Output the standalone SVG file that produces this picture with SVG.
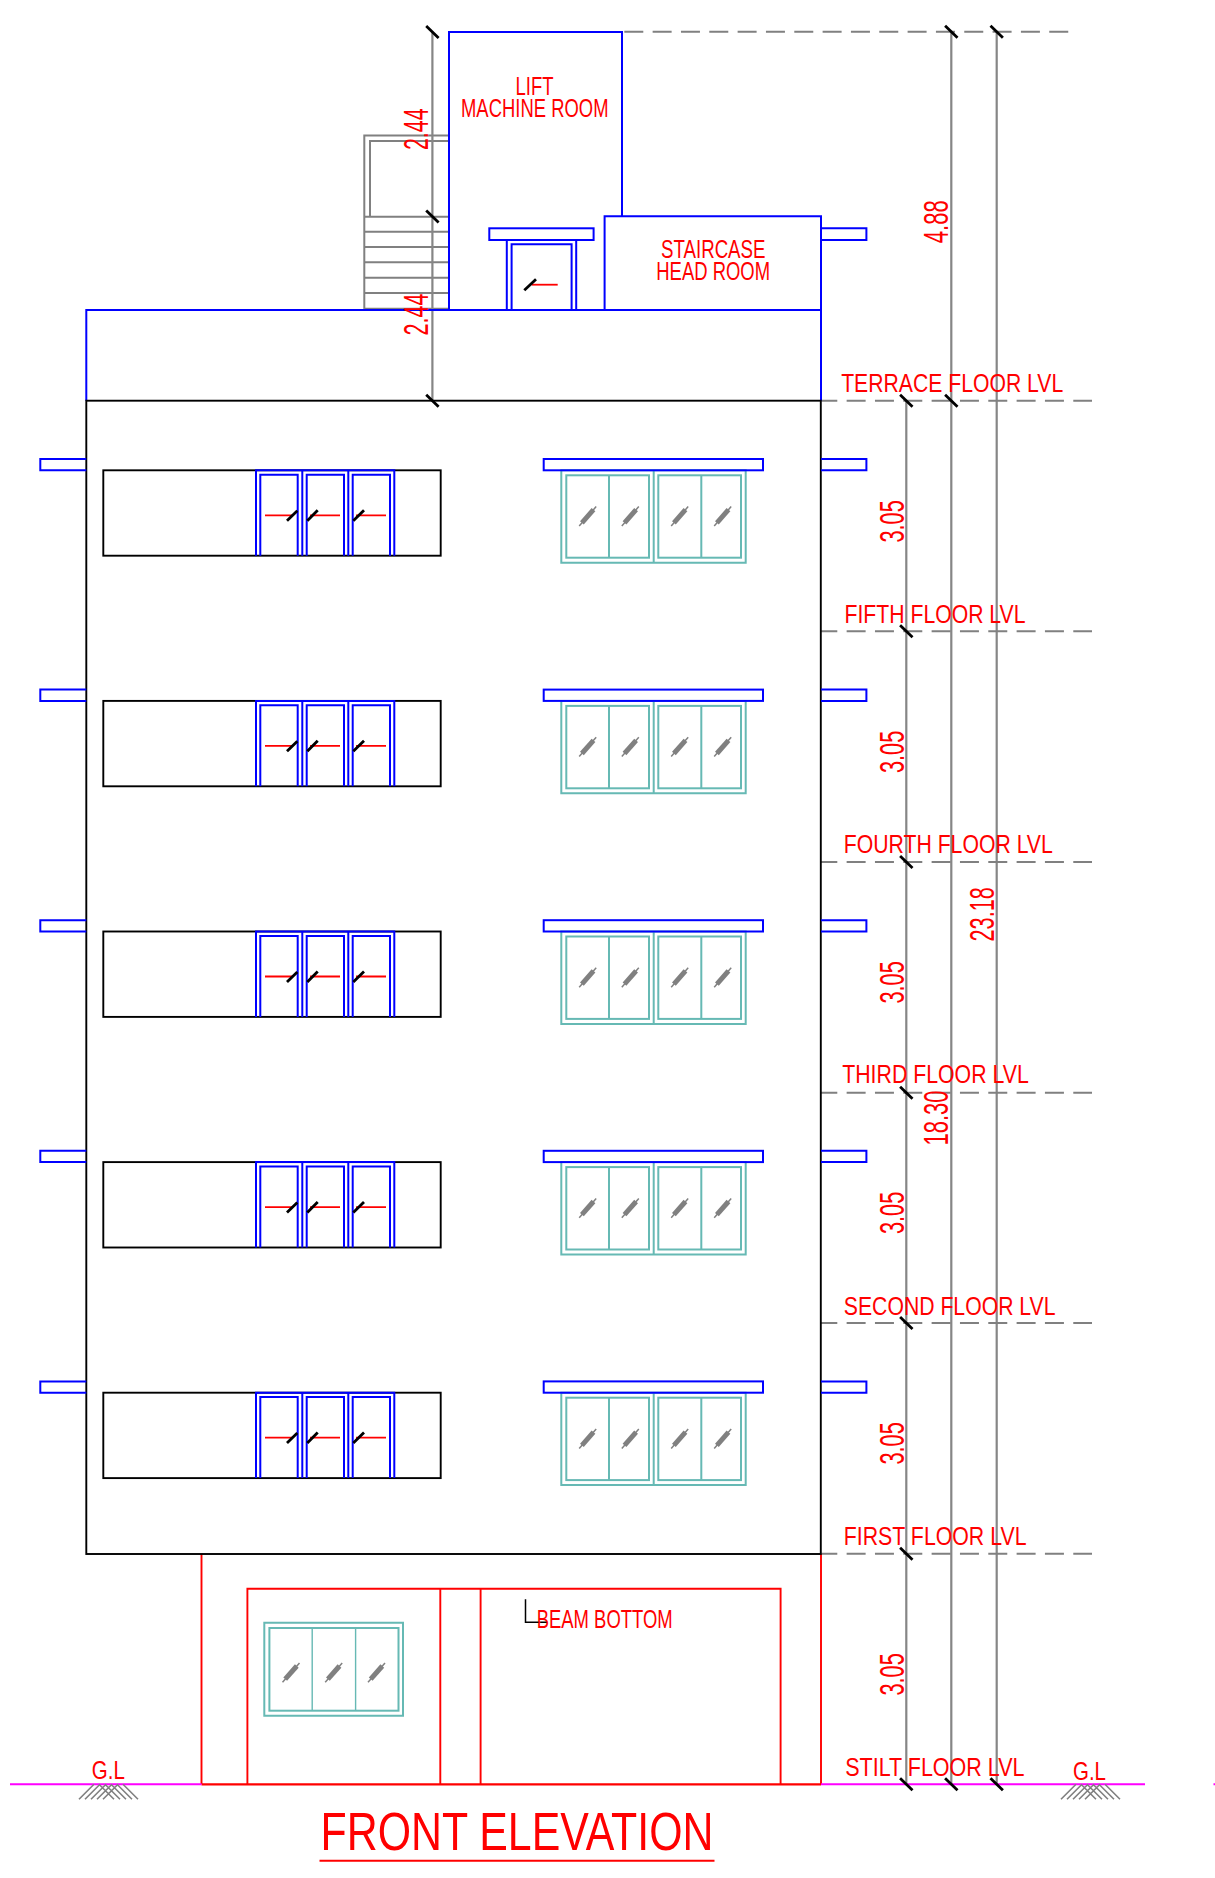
<svg xmlns="http://www.w3.org/2000/svg" width="1215" height="1878" viewBox="0 0 1215 1878">
<style>
.b{fill:none;stroke:#0000ff;stroke-width:2}
.k{fill:none;stroke:#000;stroke-width:1.9}
.r{fill:none;stroke:#ff0000;stroke-width:1.8}
.g{fill:none;stroke:#808080;stroke-width:2}
.t{fill:none;stroke:#66b9b4;stroke-width:2}
.t2{fill:none;stroke:#66b9b4;stroke-width:1.4}
.d{fill:none;stroke:#868686;stroke-width:2.2}
.dash{fill:none;stroke:#808080;stroke-width:1.9;stroke-dasharray:19 9.33}
.tick{stroke:#000;stroke-width:2.8;fill:none}
.m{stroke:#ff00ff;stroke-width:2;fill:none}
.h{stroke:#808080;stroke-width:1.6;fill:none}
.red{stroke:#ff0000;stroke-width:1.9;fill:none}
text{font-family:"Liberation Sans",Arial,sans-serif;fill:#ff0000;font-size:26.5px}
.dm{font-size:35px}
</style>
<defs>
<path id="tk" class="tick" d="M-6.2-6L6.2 6"/>
<g id="sl"><path d="M-8.5 9.7L8.5-9.7" stroke="#808080" stroke-width="1.5" fill="none"/><path d="M-5.8 6.6L5.8-6.6" stroke="#808080" stroke-width="5" fill="none"/></g>
<g id="hatch"><path class="h" d="M-14.5 0L-29.5 15M-8.5 0L-23.5 15M-2.5 0L-17.5 15M3.5 0L-11.5 15M9.5 0L-5.5 15M14.5 0L29.5 15M8.5 0L23.5 15M2.5 0L17.5 15M-3.5 0L11.5 15M-9.5 0L5.5 15"/></g>
<g id="bay">
<rect class="k" x="103.3" y="470.3" width="337.4" height="85.4"/>
<path class="b" d="M256 555.7V470.3H394.3V555.7M302.3 470.3V555.7M348.3 470.3V555.7M260.3 555.7V474.7H297.7V555.7M306.7 555.7V474.7H344V555.7M352.7 555.7V474.7H390V555.7"/>
<path class="r" d="M265 515.3H293M310 515.3H340M356 515.3H386"/>
<path class="tick" d="M287 520.7L297.3 510.7M307.3 520.7L317.7 510.2M353.3 520.7L364 510.2"/>
</g>
<g id="win">
<path class="t" d="M561.3 470.3H745.7V562.7H561.3ZM653.7 470.3V562.7"/>
<rect class="t" x="566.3" y="475.3" width="82.7" height="82.4"/>
<rect class="t" x="658.3" y="475.3" width="82.7" height="82.4"/>
<path class="t" d="M609 475.3V557.7M701.3 475.3V557.7"/>
<use href="#sl" x="587.7" y="516.3"/><use href="#sl" x="630.3" y="516.3"/><use href="#sl" x="679.7" y="516.3"/><use href="#sl" x="722.7" y="516.3"/>
<rect class="b" x="543.7" y="459" width="219.3" height="11.3"/>
</g>
<g id="shades">
<path class="b" d="M86.3 459H40.3V470.3H86.3M821 459H866.4V470.3H821"/>
</g>
</defs>

<g id="stair">
<path class="g" d="M449 135.5H364.3V310M449 141H370V216.7"/>
<path class="g" d="M364.3 216.7H449M364.3 231.7H449M364.3 247H449M364.3 262.3H449M364.3 277.7H449M364.3 293H449M364.3 308.7H449"/>
</g>

<g id="connectors">
<path class="d" d="M432.4 32V400.7M906.3 400.7V1784M951.3 32V1784M996.7 32V1784"/>
<path class="dash" d="M624.3 31.7H1069"/>
<path class="dash" style="stroke-dashoffset:2.7" d="M821 400.7H1092M821 631.3H1092M821 862H1092M821 1092.7H1092M821 1323H1092M821 1553.7H1092"/>
</g>

<g id="stilt">
<path class="red" d="M201.5 1554V1784.3M821 1554V1784.3M247.4 1784.3V1588.7H780.6V1784.3M440.3 1588.7V1784.3M480.6 1588.7V1784.3"/>
<path d="M201.5 1784.3H821" stroke="#ff0000" stroke-width="2.2" fill="none"/>
<path class="t" d="M264.3 1622.7H403V1715.7H264.3Z"/>
<rect class="t" x="269.4" y="1628" width="129.1" height="82.7"/>
<path class="t2" d="M312.2 1628V1710.7M355.6 1628V1710.7"/>
<use href="#sl" x="291" y="1672.6"/><use href="#sl" x="333.7" y="1672.6"/><use href="#sl" x="376.5" y="1672.6"/>
<path d="M525.5 1599.3V1622.3H547" stroke="#000" stroke-width="1.5" fill="none"/>
<text id="beam" x="536.7" y="1628.3" textLength="136" lengthAdjust="spacingAndGlyphs">BEAM BOTTOM</text>
</g>

<g id="ground">
<path class="m" d="M10 1784.3H201.5M821 1784.3H1145M1213.5 1784.3H1215"/>
<use href="#hatch" x="108.5" y="1784.3"/>
<use href="#hatch" x="1090.5" y="1784.3"/>
<text x="91.8" y="1779.3" textLength="33" lengthAdjust="spacingAndGlyphs">G.L</text>
<text x="1073" y="1780" textLength="33" lengthAdjust="spacingAndGlyphs">G.L</text>
</g>

<g id="building">
<path class="b" d="M86.3 400.7V310H821V400.7"/>
<rect class="k" x="86.3" y="400.7" width="734.5" height="1153.3"/>
</g>

<g id="lift-room">
<path class="b" d="M449 310V32H622V216.3"/>
<text x="515.5" y="95" textLength="38" lengthAdjust="spacingAndGlyphs">LIFT</text>
<text x="461" y="117" textLength="147.5" lengthAdjust="spacingAndGlyphs">MACHINE ROOM</text>
</g>
<g id="roof-door">
<rect class="b" x="489.3" y="228.3" width="104.3" height="11.7"/>
<path class="b" d="M506.8 310V240M576.2 310V240M511.6 310V244.2H571.6V310"/>
<path class="r" d="M531.7 284.7H557.7"/>
<path class="tick" d="M524.3 290.3L536 279.3"/>
</g>
<g id="staircase-room">
<path class="b" d="M604.6 310V216.3H821V310M821 228.3H866.4V240H821"/>
<text x="661" y="258" textLength="104.5" lengthAdjust="spacingAndGlyphs">STAIRCASE</text>
<text x="656.3" y="280" textLength="113.8" lengthAdjust="spacingAndGlyphs">HEAD ROOM</text>
</g>

<g id="floor-5"><use href="#shades"/><use href="#bay"/><use href="#win"/></g>
<g id="floor-4"><use href="#shades" y="230.6"/><use href="#bay" y="230.6"/><use href="#win" y="230.6"/></g>
<g id="floor-3"><use href="#shades" y="461.2"/><use href="#bay" y="461.2"/><use href="#win" y="461.2"/></g>
<g id="floor-2"><use href="#shades" y="691.8"/><use href="#bay" y="691.8"/><use href="#win" y="691.8"/></g>
<g id="floor-1"><use href="#shades" y="922.4"/><use href="#bay" y="922.4"/><use href="#win" y="922.4"/></g>

<g id="ticks">
<use href="#tk" x="432.4" y="32"/><use href="#tk" x="432.4" y="216.5"/><use href="#tk" x="432.4" y="400.7"/>
<use href="#tk" x="951.3" y="31.7"/><use href="#tk" x="996.7" y="31.7"/><use href="#tk" x="951.3" y="400.7"/>
<use href="#tk" x="906.3" y="400.7"/><use href="#tk" x="906.3" y="631.3"/><use href="#tk" x="906.3" y="862"/><use href="#tk" x="906.3" y="1092.7"/><use href="#tk" x="906.3" y="1323"/><use href="#tk" x="906.3" y="1553.7"/>
<use href="#tk" x="906.3" y="1784.3"/><use href="#tk" x="951.3" y="1784.3"/><use href="#tk" x="996.7" y="1784.3"/>
</g>

<g id="level-labels">
<text x="841.2" y="391.7" textLength="222" lengthAdjust="spacingAndGlyphs">TERRACE FLOOR LVL</text>
<text x="844.5" y="622.7" textLength="181" lengthAdjust="spacingAndGlyphs">FIFTH FLOOR LVL</text>
<text x="843.8" y="852.7" textLength="209" lengthAdjust="spacingAndGlyphs">FOURTH FLOOR LVL</text>
<text x="842.2" y="1083.3" textLength="186.6" lengthAdjust="spacingAndGlyphs">THIRD FLOOR LVL</text>
<text x="843.8" y="1315" textLength="211.7" lengthAdjust="spacingAndGlyphs">SECOND FLOOR LVL</text>
<text x="843.8" y="1544.7" textLength="182.7" lengthAdjust="spacingAndGlyphs">FIRST FLOOR LVL</text>
<text x="845.2" y="1776" textLength="179.3" lengthAdjust="spacingAndGlyphs">STILT FLOOR LVL</text>
</g>

<g id="dimensions">
<text class="dm" transform="translate(428.3 150) rotate(-90)" textLength="41.5" lengthAdjust="spacingAndGlyphs">2.44</text>
<text class="dm" transform="translate(428.3 335.5) rotate(-90)" textLength="42" lengthAdjust="spacingAndGlyphs">2.44</text>
<text class="dm" transform="translate(903.5 542.5) rotate(-90)" textLength="42.3" lengthAdjust="spacingAndGlyphs">3.05</text>
<text class="dm" transform="translate(903.5 773) rotate(-90)" textLength="42.3" lengthAdjust="spacingAndGlyphs">3.05</text>
<text class="dm" transform="translate(903.5 1003.5) rotate(-90)" textLength="42.3" lengthAdjust="spacingAndGlyphs">3.05</text>
<text class="dm" transform="translate(903.5 1234) rotate(-90)" textLength="42.3" lengthAdjust="spacingAndGlyphs">3.05</text>
<text class="dm" transform="translate(903.5 1464.5) rotate(-90)" textLength="42.3" lengthAdjust="spacingAndGlyphs">3.05</text>
<text class="dm" transform="translate(903.5 1695.5) rotate(-90)" textLength="42.3" lengthAdjust="spacingAndGlyphs">3.05</text>
<text class="dm" transform="translate(948 243.2) rotate(-90)" textLength="43" lengthAdjust="spacingAndGlyphs">4.88</text>
<text class="dm" transform="translate(994 941.5) rotate(-90)" textLength="54.3" lengthAdjust="spacingAndGlyphs">23.18</text>
<text class="dm" transform="translate(948 1145.5) rotate(-90)" textLength="55" lengthAdjust="spacingAndGlyphs">18.30</text>
</g>

<g id="title">
<text style="font-size:54.5px" x="320.5" y="1849.5" textLength="393" lengthAdjust="spacingAndGlyphs">FRONT ELEVATION</text>
<path d="M319.5 1860.7H714.5" stroke="#ff0000" stroke-width="2" fill="none"/>
</g>
</svg>
